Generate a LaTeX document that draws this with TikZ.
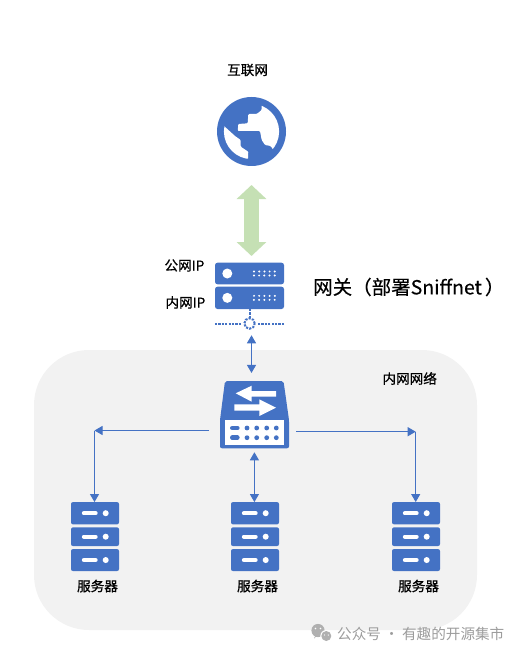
\documentclass[tikz,border=0pt]{standalone}
\usepackage{fontspec}
\setmainfont{Noto Sans CJK SC}
\newfontfamily\lblfont[FakeBold=0.7]{Noto Sans CJK SC}
\newfontfamily\namefont[FakeBold=0.3]{Noto Sans CJK SC}
\usepackage{xcolor}
\usetikzlibrary{arrows.meta,positioning}
\definecolor{iconblue}{HTML}{4472C4}
\definecolor{lightgreen}{HTML}{C5E0B4}
\definecolor{langray}{HTML}{F2F2F2}
\definecolor{marktext}{HTML}{9C9C9C}

\begin{document}
\begin{tikzpicture}[
 x=1pt,y=-1pt,
 lbl/.style={font=\fontsize{13.6}{16}\lblfont,inner sep=0pt},
 rack/.style={fill=iconblue,rounded corners=2pt,minimum width=48pt,inner sep=0pt,outer sep=0pt},
 gwbox/.style={fill=iconblue,rounded corners=2.5pt,minimum width=69pt,inner sep=0pt,outer sep=0pt},
 arr/.style={{Triangle[length=8pt,width=9pt]}-{Triangle[length=8pt,width=9pt]},draw=iconblue,line width=1pt},
 oneway/.style={-{Triangle[length=8pt,width=9pt]},draw=iconblue,line width=1pt},
 dotline/.style={draw=iconblue,line width=2pt,dash pattern=on 2.2pt off 1.2pt}
]
\useasboundingbox (0,0) rectangle (521,655);
\node[fill=langray,rounded corners=55pt,minimum width=443pt,minimum height=280pt,inner sep=0pt] (lan) at (255.5,490) {};

% internet
\node[circle,fill=iconblue,minimum size=69pt,inner sep=0pt,outer sep=0pt] (inet) at (251.5,131.5) {};
\begin{scope}
\clip (inet.center) circle (27.6);
\fill[white,rounded corners=1pt] (261.7,98)--(261.7,110)--(256.7,114)--(248.3,114)--(247.7,123.3)--(238.3,124)--(237.7,131)--(260,131)--(261.7,140)--(265,145)--(270.7,146)--(276,154)--(290,154)--(290,98)--cycle;
\fill[white,rounded corners=1pt] (220,123)--(224,126)--(235,136)--(240.7,140)--(240.7,146.7)--(248.3,151.7)--(247.7,165)--(215,165)--(215,123)--cycle;
\end{scope}
\node[lbl] (inetlabel) at (247.5,70) {互联网};

% gateway
\node[gwbox,minimum height=21.6pt] (gwtop) at (249.5,273.5) {};
\node[gwbox,minimum height=22.3pt,below=2.4pt of gwtop] (gwlow) {};
\foreach \g in {gwtop,gwlow}{
 \fill[white] ([xshift=-22.2pt]\g.center) circle (5);
 \foreach \d in {0,1,2,3,4}{
  \fill[white] ([xshift=4.5pt+\d*5.2pt,yshift=2pt]\g.center) circle (1.1);
  \fill[white] ([xshift=7pt+\d*5.2pt-2.6pt,yshift=-2pt]\g.center) circle (1.1);
 }
}
\node[lbl,anchor=east] (pubip) at (204.5,265.5) {公网IP};
\node[lbl,anchor=east] (innerip) at (205.5,302.5) {内网IP};
\node[inner sep=0pt,font=\fontsize{19.5}{22}\namefont,anchor=west] (gwname) at (313,287) {网关（部署Sniffnet\kern3pt）};

% tap on the gateway segment
\node[circle,dotline,minimum size=10.5pt,inner sep=0pt,outer sep=0pt] (tap) at (249.5,323.5) {};
\coordinate (busleft) at (215,323.5);
\coordinate (busright) at (284,323.5);
\draw[dotline] (gwlow.south)--(tap.north);
\draw[dotline,shorten >=2.5pt] (busleft)--(tap.west);
\draw[dotline,shorten >=3pt] (busright)--(tap.east);

\draw[line width=15pt,draw=lightgreen,{Triangle[length=14pt,width=29pt]}-{Triangle[length=14pt,width=29pt]},shorten <=19pt,shorten >=6.7pt] (inet.south)--(inet.south |- gwtop.north);

% switch
\node[minimum width=69pt,minimum height=67.3pt,inner sep=0pt,outer sep=0pt] (sw) at (254.4,414.6) {};
\fill[iconblue,rounded corners=2pt] (225,381)--(283.5,381)--(289,420)--(289,448.3)--(220,448.3)--(220,420)--cycle;
\fill[white] (225,420) rectangle (284,445);
\fill[white] (235.7,393.3)--(251.7,385.7)--(251.7,391)--(276,391)--(276,396.7)--(251.7,396.7)--(251.7,401.7)--cycle;
\fill[white] (276,407.7)--(259.3,399.3)--(259.3,404.3)--(234.3,404.3)--(234.3,410.7)--(259.3,410.7)--(259.3,416)--cycle;
\foreach \y in {428,437.7}{
 \draw[iconblue,line width=4.6pt,line cap=round] (232.3,\y)--(237.3,\y);
 \foreach \x in {247,256.7,266.7,276.3}
  \fill[iconblue] (\x,\y) circle (2.4);
}
\draw[arr,shorten <=6.5pt,shorten >=8pt] (inet.south |- tap.south)--(inet.south |- sw.north);
\node[lbl,anchor=center] (lanlabel) at (409.7,378.5) {内网网络};

% servers
\foreach \n/\x in {A/95,B/255,C/416}{
 \node[rack,minimum height=22.3pt] (srv\n1) at (\x,513.2) {};
 \node[rack,minimum height=18.7pt,below=3pt of srv\n1] (srv\n2) {};
 \node[rack,minimum height=22pt,below=3pt of srv\n2] (srv\n3) {};
 \foreach \k in {1,2,3}{
  \draw[white,line width=4.4pt,line cap=round] ([xshift=-11pt]srv\n\k.center)--([xshift=0.5pt]srv\n\k.center);
  \fill[white] ([xshift=10.7pt]srv\n\k.center) circle (3);
 }
 \node[lbl,below=8.5pt of srv\n3,xshift=2.5pt] (srv\n label) {服务器};
}
\coordinate (leftcorner) at (94.5,430.5);
\coordinate (rightcorner) at (415.7,431.7);
\coordinate (swleft) at (209,430.5);
\coordinate (swright) at (296,431.7);
\draw[oneway] (swleft)--(leftcorner);
\draw[oneway] (leftcorner)--(leftcorner |- srvA1.north);
\draw[oneway] (swright)--(rightcorner);
\draw[oneway] (rightcorner)--(rightcorner |- srvC1.north);
\draw[arr,shorten <=4pt] (sw.south)--(sw.south |- srvB1.north);

% watermark
\fill[marktext!80] (318,630.5) circle (6.6);
\fill[marktext!80] (318,635)--(314,638.5)--(316,634)--cycle;
\fill[white] (326.3,636) circle (6);
\fill[marktext!80] (326.3,636) circle (5);
\fill[white] (315.5,628.5) circle (0.9) (320.5,628.5) circle (0.9);
\fill[white] (324.5,635) circle (0.7) (328.3,635) circle (0.7);
\node[text=marktext,inner sep=0pt,anchor=west,font=\fontsize{14.6}{17}\selectfont] (mark) at (337,634) {公众号 · 有趣的开源集市};
\end{tikzpicture}
\end{document}
